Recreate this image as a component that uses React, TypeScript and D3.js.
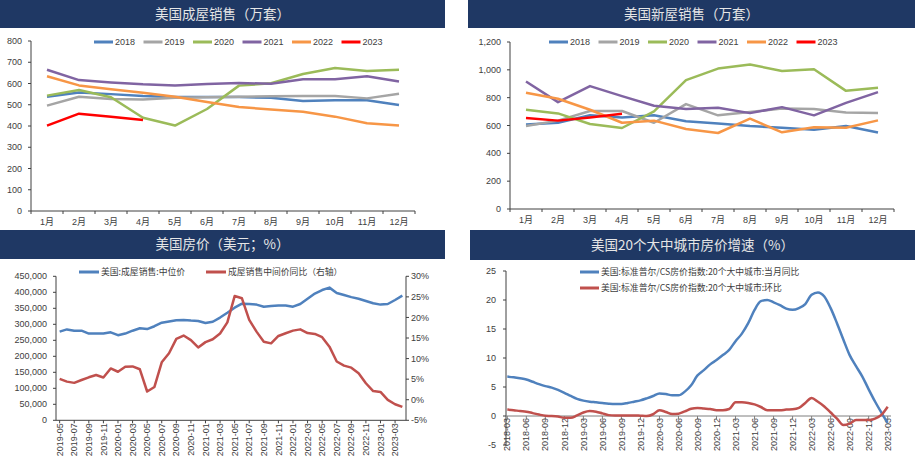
import React from "react";
import * as d3 from "d3";

const monthCats = ["1月","2月","3月","4月","5月","6月","7月","8月","9月","10月","11月","12月"];
const years = ["2018","2019","2020","2021","2022","2023"];
const yearColors = ["#4F81BD","#A5A5A5","#9BBB59","#8064A2","#F79646","#FF0000"];

// 美国成屋销售（万套）
const ex2018 = [538,558,550,541,536,536,536,533,518,521,521,499];
const ex2019 = [496,538,527,525,533,535,538,540,541,541,530,552];
const ex2020 = [543,569,535,439,402,480,590,601,645,673,659,665];
const ex2021 = [665,616,605,596,591,598,602,599,620,620,634,609];
const ex2022 = [634,591,573,557,538,513,489,478,467,444,413,402];
const ex2023 = [402,458,444,428];
const existingTicks = [0,100,200,300,400,500,600,700,800];

// 美国新屋销售（万套）
const nw2018 = [608,620,673,658,673,630,615,596,584,570,596,549];
const nw2019 = [596,635,704,704,620,754,673,697,723,718,694,689];
const nw2020 = [713,687,611,582,701,926,1009,1038,992,1004,849,871];
const nw2021 = [916,768,883,811,742,718,728,689,732,673,763,840];
const nw2022 = [835,792,713,620,635,575,546,649,551,587,584,637];
const nw2023 = [654,635,658,685];
const newTicks = [0,200,400,600,800,1000,1200];

// 美国房价
const priceMonths = (() => {
  const out: string[] = [];
  let y = 2019, m = 5;
  for (let i = 0; i < 48; i++) {
    out.push(`${y}-${String(m).padStart(2, "0")}`);
    m++; if (m > 12) { m = 1; y++; }
  }
  return out;
})();
const medianPrice = [277000,284000,280000,280000,271000,271000,271000,275000,266000,271000,280000,287500,
  285000,294000,305000,309000,312500,313500,311500,310500,304000,308000,321000,336000,
  352000,364600,363500,361500,355000,357000,359000,359000,355000,363500,380000,396000,
  407000,414600,398000,391700,385000,380000,373000,365600,361500,363500,376000,389600];
const medianYoY = [5.05,4.4,4.1,4.8,5.45,6.0,5.4,7.6,6.8,8.0,8.1,7.4,
  2.0,3.1,9.1,11.3,14.8,15.6,14.5,12.7,14.0,14.7,16.1,18.8,
  25.2,24.65,19.4,16.55,14.1,13.7,15.5,16.15,16.8,17.1,16.2,16.0,
  15.2,12.9,9.3,8.3,7.8,6.45,4.0,2.1,1.9,-0.05,-1.1,-1.75];
const priceLeftTicks = [0,50000,100000,150000,200000,250000,300000,350000,400000,450000];
const priceRightTicks = [-5,0,5,10,15,20,25,30];

// 美国20个大中城市房价增速
const csMonths = (() => {
  const out: string[] = [];
  let y = 2018, m = 3;
  for (let i = 0; i < 61; i++) {
    out.push(`${y}-${String(m).padStart(2, "0")}`);
    m++; if (m > 12) { m = 1; y++; }
  }
  return out;
})();
const csYoY = [6.8,6.67,6.5,6.3,5.9,5.5,5.15,4.9,4.5,4.0,
  3.45,2.95,2.65,2.47,2.36,2.24,2.13,2.07,2.07,2.24,2.47,2.7,
  3.05,3.45,3.9,3.8,3.56,3.56,4.2,5.3,7.0,7.9,8.9,9.65,
  10.5,11.4,12.9,14.2,16.0,18.3,19.8,20.0,19.6,19.1,18.5,18.3,
  18.6,19.3,20.9,21.3,20.6,18.6,16.0,13.2,10.5,8.6,6.8,4.6,
  2.5,0.6,-1.2];
const csMoM = [1.1,1.0,0.85,0.75,0.5,0.25,0.05,0.0,-0.1,-0.3,
  -0.3,0.1,0.6,0.85,0.75,0.45,0.15,0.1,0.1,0.1,0.1,0.05,
  0.0,0.3,1.0,0.7,0.35,0.4,0.8,1.25,1.4,1.3,1.2,1.0,
  1.0,1.2,2.35,2.35,2.25,2.0,1.55,1.0,1.0,1.0,1.1,1.15,
  1.4,2.25,3.1,2.45,1.65,0.6,-0.45,-1.55,-1.3,-0.7,-0.7,-0.7,
  -0.45,0.2,1.6];
const csTicks = [-5,0,5,10,15,20,25];

const TITLE_BG = "#1F3864";
const TITLE_FG = "#E6E6E6";
const AXIS = "#404040";
const LABEL = "#404040";
const FONT = "'Liberation Sans', 'Noto Sans CJK SC', sans-serif";
const CJK = "'Noto Sans CJK SC', sans-serif";

function TitleBar({ x, y, w, h, text }: { x: number; y: number; w: number; h: number; text: string }) {
  return (
    <g>
      <rect x={x} y={y} width={w} height={h} fill={TITLE_BG} />
      <text x={x + w / 2} y={y + h / 2} dy="0.36em" textAnchor="middle" fill={TITLE_FG}
        fontSize={13.5} fontFamily={CJK}>{text}</text>
    </g>
  );
}

function YearPanel({ x0, x1, yTop, yBot, max, ticks, series, legendX, title, titleX, titleW, fmt }: any) {
  const x = d3.scaleBand<string>().domain(monthCats).range([x0, x1]);
  const y = d3.scaleLinear().domain([0, max]).range([yBot, yTop]);
  const line = d3.line<number>().x((_, i) => (x(monthCats[i]) as number) + x.bandwidth() / 2).y(d => y(d));
  return (
    <g>
      <TitleBar x={titleX} y={0} w={titleW} h={28} text={title} />
      {years.map((yr, i) => (
        <g key={yr}>
          <line x1={legendX + i * 49.5} x2={legendX + i * 49.5 + 19} y1={42} y2={42} stroke={yearColors[i]} strokeWidth={3} />
          <text x={legendX + i * 49.5 + 21} y={42} dy="0.35em" fontSize={9} fill={LABEL} fontFamily={FONT}>{yr}</text>
        </g>
      ))}
      <line x1={x0} x2={x0} y1={yTop} y2={yBot} stroke={AXIS} />
      <line x1={x0} x2={x1} y1={yBot} y2={yBot} stroke={AXIS} />
      {ticks.map((t: number) => (
        <g key={t}>
          <line x1={x0 - 3} x2={x0} y1={y(t)} y2={y(t)} stroke={AXIS} />
          <text x={x0 - 9} y={y(t)} dy="0.35em" textAnchor="end" fontSize={9} fill={LABEL} fontFamily={FONT}>{fmt(t)}</text>
        </g>
      ))}
      {monthCats.map((m, i) => (
        <g key={m}>
          <line x1={x(m)} x2={x(m)} y1={yBot} y2={yBot + 3} stroke={AXIS} />
          {i === monthCats.length - 1 && <line x1={x1} x2={x1} y1={yBot} y2={yBot + 3} stroke={AXIS} />}
          <text x={(x(m) as number) + x.bandwidth() / 2} y={yBot + 11} dy="0.35em" textAnchor="middle" fontSize={9} fill={LABEL} fontFamily={FONT}>{m}</text>
        </g>
      ))}
      {series.map((s: number[], i: number) => (
        <path key={i} d={line(s) as string} fill="none" stroke={yearColors[i]} strokeWidth={2.5} strokeLinejoin="round" />
      ))}
    </g>
  );
}

function PricePanel() {
  const x0 = 56, x1 = 406, yTop = 276.3, yBot = 420.3;
  const x = d3.scalePoint<string>().domain(priceMonths).range([x0, x1]).padding(0.5);
  const yL = d3.scaleLinear().domain([0, 450000]).range([yBot, yTop]);
  const yR = d3.scaleLinear().domain([-5, 30]).range([yBot, yTop]);
  const lineL = d3.line<number>().x((_, i) => x(priceMonths[i]) as number).y(d => yL(d));
  const lineR = d3.line<number>().x((_, i) => x(priceMonths[i]) as number).y(d => yR(d));
  const fmt = d3.format(",");
  return (
    <g>
      <TitleBar x={0} y={230} w={445} h={29} text="美国房价（美元；%）" />
      <line x1={79} x2={99} y1={272} y2={272} stroke="#4F81BD" strokeWidth={3} />
      <text x={101} y={272} dy="0.35em" fontSize={8.8} fill={LABEL} fontFamily={CJK}>美国:成屋销售:中位价</text>
      <line x1={206} x2={226} y1={272} y2={272} stroke="#C0504D" strokeWidth={3} />
      <text x={228} y={272} dy="0.35em" fontSize={8.8} fill={LABEL} fontFamily={CJK}>成屋销售中间价同比（右轴）</text>
      <line x1={x0} x2={x0} y1={yTop} y2={yBot} stroke={AXIS} />
      <line x1={x1} x2={x1} y1={yTop} y2={yBot} stroke={AXIS} />
      <line x1={x0} x2={x1} y1={yBot} y2={yBot} stroke={AXIS} />
      {priceLeftTicks.map(t => (
        <g key={t}>
          <line x1={x0 - 3} x2={x0} y1={yL(t)} y2={yL(t)} stroke={AXIS} />
          <text x={x0 - 9} y={yL(t)} dy="0.35em" textAnchor="end" fontSize={9} fill={LABEL} fontFamily={FONT}>{fmt(t)}</text>
        </g>
      ))}
      {priceRightTicks.map(t => (
        <g key={t}>
          <line x1={x1} x2={x1 + 3} y1={yR(t)} y2={yR(t)} stroke={AXIS} />
          <text x={x1 + 5} y={yR(t)} dy="0.35em" textAnchor="start" fontSize={9} fill={LABEL} fontFamily={FONT}>{t}%</text>
        </g>
      ))}
      {priceMonths.map((m, i) => i % 2 === 0 ? (
        <g key={m}>
          <line x1={x(m)} x2={x(m)} y1={yBot} y2={yBot + 3} stroke={AXIS} />
          <text transform={`translate(${x(m)},${yBot + 3}) rotate(-90)`} dy="0.35em" textAnchor="end" fontSize={9} fill={LABEL} fontFamily={FONT}>{m}</text>
        </g>
      ) : null)}
      <path d={lineL(medianPrice) as string} fill="none" stroke="#4F81BD" strokeWidth={2.5} strokeLinejoin="round" />
      <path d={lineR(medianYoY) as string} fill="none" stroke="#C0504D" strokeWidth={2.5} strokeLinejoin="round" />
    </g>
  );
}

function CSPanel() {
  const xAxis0 = 506, xAxis1 = 891, yTop = 271, yBot = 445;
  const x = d3.scaleLinear().domain([0, csMonths.length - 1]).range([507.3, 887.7]);
  const y = d3.scaleLinear().domain([-5, 25]).range([yBot, yTop]);
  const line = d3.line<number>().x((_, i) => x(i)).y(d => y(d)).curve(d3.curveMonotoneX);
  const y0 = y(0);
  return (
    <g>
      <TitleBar x={470} y={230} w={445} h={30} text="美国20个大中城市房价增速（%）" />
      <line x1={580} x2={599} y1={272} y2={272} stroke="#4F81BD" strokeWidth={3} />
      <text x={601} y={272} dy="0.35em" fontSize={8.8} fill={LABEL} fontFamily={CJK}>美国:标准普尔/CS房价指数:20个大中城市:当月同比</text>
      <line x1={580} x2={599} y1={288} y2={288} stroke="#C0504D" strokeWidth={3} />
      <text x={601} y={288} dy="0.35em" fontSize={8.8} fill={LABEL} fontFamily={CJK}>美国:标准普尔/CS房价指数:20个大中城市:环比</text>
      <line x1={xAxis0} x2={xAxis0} y1={yTop} y2={yBot} stroke={AXIS} />
      {csTicks.map(t => (
        <g key={t}>
          <line x1={xAxis0 - 3} x2={xAxis0} y1={y(t)} y2={y(t)} stroke={AXIS} />
          <text x={xAxis0 - 10} y={y(t)} dy="0.35em" textAnchor="end" fontSize={9} fill={LABEL} fontFamily={FONT}>{t}</text>
        </g>
      ))}
      <line x1={xAxis0} x2={xAxis1} y1={y0} y2={y0} stroke="#7F7F7F" />
      {csMonths.map((m, i) => i % 3 === 0 ? (
        <g key={m}>
          <line x1={x(i)} x2={x(i)} y1={y0} y2={y0 + 3} stroke="#7F7F7F" />
          <text transform={`translate(${x(i)},${y0 + 2}) rotate(-90)`} dy="0.35em" textAnchor="end" fontSize={9} fill={LABEL} fontFamily={FONT}>{m}</text>
        </g>
      ) : null)}
      <path d={line(csYoY) as string} fill="none" stroke="#4F81BD" strokeWidth={2.5} strokeLinejoin="round" />
      <path d={line(csMoM) as string} fill="none" stroke="#C0504D" strokeWidth={2.5} strokeLinejoin="round" />
    </g>
  );
}

export default function App() {
  const fmtPlain = (t: number) => String(t);
  const fmtComma = d3.format(",");
  return (
    <svg width={915} height={468} style={{ position: "absolute", left: 0, top: 0, background: "#fff" }}>
      <rect x={0} y={0} width={915} height={468} fill="#fff" />
      <YearPanel x0={31} x1={415} yTop={41} yBot={211} max={800} ticks={existingTicks}
        series={[ex2018, ex2019, ex2020, ex2021, ex2022, ex2023]} legendX={94}
        title="美国成屋销售（万套）" titleX={0} titleW={445} fmt={fmtPlain} />
      <YearPanel x0={510} x1={894} yTop={42} yBot={209} max={1200} ticks={newTicks}
        series={[nw2018, nw2019, nw2020, nw2021, nw2022, nw2023]} legendX={549}
        title="美国新屋销售（万套）" titleX={468} titleW={447} fmt={fmtComma} />
      <PricePanel />
      <CSPanel />
    </svg>
  );
}
